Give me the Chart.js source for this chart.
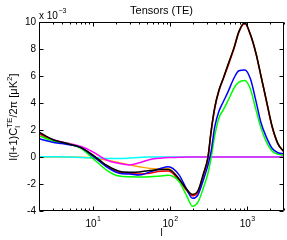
<!DOCTYPE html>
<html>
<head>
<meta charset="utf-8">
<script src="https://cdn.jsdelivr.net/npm/chart.js@4/dist/chart.umd.min.js"></script>
<style>
html,body{margin:0;padding:0;background:#fff;}
canvas{display:block;}
</style>
</head>
<body>
<canvas id="c" width="287" height="240"></canvas>
<script>
// multipole l
const ell = [2,3,4,5,7,10,15,22,30,40,55,75,95,130,165,195,230,270,310,340,380,430,490,560,680,780,930,1100,1300,1500,1750,2100,2500,3000];
// series (units of 1e-3 uK^2)
const blackVals   = [1.85,1.3,1.1,0.95,0.7,0.15,-0.6,-1.05,-1.12,-1.1,-1.0,-0.92,-0.92,-1.6,-2.4,-2.77,-2.5,-1.25,0.0,1.9,3.7,4.95,5.85,6.8,8.17,9.3,9.95,9.1,7.7,6.1,4.35,2.3,1.0,0.39];
const blueVals    = [1.35,1.1,1.0,0.92,0.7,0.07,-0.72,-1.2,-1.26,-1.33,-1.1,-0.85,-0.72,-1.3,-2.4,-3.06,-2.8,-1.7,-0.6,0.4,2.25,3.4,4.1,4.8,5.9,6.4,6.45,5.8,4.15,2.6,1.55,0.65,0.32,0.25];
const greenVals   = [1.58,1.2,1.05,0.95,0.65,-0.1,-0.96,-1.41,-1.46,-1.48,-1.46,-1.4,-1.35,-1.8,-2.9,-3.65,-3.35,-2.3,-1.2,-0.1,1.6,2.9,3.5,4.15,5.14,5.55,5.68,5.05,3.5,2.2,1.2,0.45,0.22,0.12];
const redVals     = [1.72,1.25,1.08,0.95,0.7,0.12,-0.67,-1.15,-1.2,-1.26,-1.2,-1.05,-1.04,-1.7,-2.5,-2.87,-2.6,-1.4,-0.1,1.8,3.6,4.9,5.8,6.7,8.1,9.25,9.9,9.05,7.65,6.05,4.3,2.25,0.98,0.38];
const orangeVals  = [0,0,0,0,-0.02,-0.08,-0.22,-0.42,-0.58,-0.72,-0.84,-0.86,-0.84,-1.6,-2.4,-2.77,-2.5,-1.25,0.0,1.9,3.7,4.95,5.85,6.8,8.17,9.3,9.95,9.1,7.7,6.1,4.35,2.3,1.0,0.39];
const magentaVals = [1.78,1.3,1.1,1.0,0.78,0.39,-0.22,-0.48,-0.58,-0.42,-0.18,-0.08,-0.04,-0.02,0,0,0,0,0,0,0,0,0,0,0,0,0,0,0,0,0,0,0,0];
const cyanVals    = [0.02,0.02,0.01,0,-0.03,-0.06,-0.1,-0.1,-0.07,-0.03,0,0,0,0,0,0,0,0,0,0,0,0,0,0,0,0,0,0,0,0,0,0,0,0];
// axes
const yTicks = [-4,-2,0,2,4,6,8,10];
const xMajor = [10,100,1000];
const xMinor = [2,3,4,5,6,7,8,9,20,30,40,50,60,70,80,90,200,300,400,500,600,700,800,900,2000,3000];
const xMajorExp = ['1','2','3'];

const FONT = '"Liberation Sans", Arial, Helvetica, sans-serif';

function ds(vals, color){
  return {data: ell.map((x,i)=>({x:x, y:vals[i]})), borderColor: color, borderWidth: 1.5,
          pointRadius: 0, fill: false, cubicInterpolationMode: 'monotone'};
}

const axesPlugin = {
  id: 'matlabAxes',
  afterDatasetsDraw(chart){
    const ctx = chart.ctx, a = chart.chartArea, xs = chart.scales.x, ys = chart.scales.y;
    ctx.save();
    ctx.strokeStyle = '#000';
    ctx.lineWidth = 1;
    const L = Math.round(a.left)+0.5, R = Math.round(a.right)-0.5, T = Math.round(a.top)+0.5, B = Math.round(a.bottom)-0.5;
    ctx.beginPath();
    ctx.rect(L, T, R-L, B-T);
    ctx.stroke();
    ctx.beginPath();
    yTicks.forEach(v=>{
      const p = Math.round(ys.getPixelForValue(v))+0.5;
      ctx.moveTo(L,p); ctx.lineTo(L+4,p);
      ctx.moveTo(R,p); ctx.lineTo(R-4,p);
    });
    xMajor.forEach(v=>{
      const p = Math.round(xs.getPixelForValue(v))+0.5;
      ctx.moveTo(p,B); ctx.lineTo(p,B-4);
      ctx.moveTo(p,T); ctx.lineTo(p,T+4);
    });
    xMinor.forEach(v=>{
      const p = Math.round(xs.getPixelForValue(v))+0.5;
      ctx.moveTo(p,B); ctx.lineTo(p,B-2);
      ctx.moveTo(p,T); ctx.lineTo(p,T+2);
    });
    ctx.stroke();
    ctx.fillStyle = '#000';
    // y labels
    ctx.font = '10px ' + FONT;
    ctx.textAlign = 'right';
    ctx.textBaseline = 'middle';
    yTicks.forEach(v=>{
      ctx.fillText(String(v), a.left-3, ys.getPixelForValue(v));
    });
    // x labels
    xMajor.forEach((v,i)=>{
      const p = xs.getPixelForValue(v);
      ctx.font = '10px ' + FONT;
      const w1 = ctx.measureText('10').width;
      ctx.font = '7px ' + FONT;
      const w2 = ctx.measureText(xMajorExp[i]).width;
      const x0 = p - (w1+w2)/2;
      ctx.textAlign = 'left';
      ctx.textBaseline = 'alphabetic';
      ctx.font = '10px ' + FONT;
      ctx.fillText('10', x0, 227);
      ctx.font = '7px ' + FONT;
      ctx.fillText(xMajorExp[i], x0+w1+0.5, 221);
    });
    // x axis label
    ctx.font = '10px ' + FONT;
    ctx.textAlign = 'center';
    ctx.fillText('l', (a.left+a.right)/2, 236);
    // exponent
    ctx.textAlign = 'left';
    ctx.font = '10px ' + FONT;
    ctx.fillText('x 10', a.left, 19);
    const wx = ctx.measureText('x 10').width;
    ctx.font = '7px ' + FONT;
    ctx.fillText('\u22123', a.left+wx+0.5, 12.5);
    // y axis label
    ctx.save();
    const cy = 117;
    ctx.translate(17, cy);
    ctx.rotate(-Math.PI/2);
    const big = '11px ' + FONT, small = '8px ' + FONT;
    const parts = [
      {t:'l(l+1)C', f:big, y:0},
      {stack:[{t:'TE', f:small, y:-5.5},{t:'l', f:small, y:3}]},
      {t:'/2\u03c0 [\u03bcK', f:big, y:0},
      {t:'2', f:small, y:-5},
      {t:']', f:big, y:0}
    ];
    let W = 0;
    parts.forEach(pt=>{
      if(pt.stack){
        let m=0; pt.stack.forEach(s=>{ctx.font=s.f; m=Math.max(m, ctx.measureText(s.t).width);});
        pt.w = m;
      } else { ctx.font = pt.f; pt.w = ctx.measureText(pt.t).width; }
      W += pt.w;
    });
    let x = -W/2;
    ctx.textAlign = 'left';
    ctx.textBaseline = 'alphabetic';
    parts.forEach(pt=>{
      if(pt.stack){
        pt.stack.forEach(s=>{ctx.font=s.f; ctx.fillText(s.t, x, s.y);});
      } else { ctx.font = pt.f; ctx.fillText(pt.t, x, pt.y); }
      x += pt.w;
    });
    ctx.restore();
    ctx.restore();
  }
};

new Chart(document.getElementById('c'), {
  type: 'line',
  data: {
    datasets: [
      ds(blackVals, '#000000'),
      ds(blueVals, '#0000ff'),
      ds(greenVals, '#00ff00'),
      ds(redVals, '#ff0000'),
      ds(magentaVals, '#ff00ff'),
      ds(cyanVals, '#00ffff'),
      ds(orangeVals, '#ffa500')
    ]
  },
  options: {
    responsive: false,
    animation: false,
    devicePixelRatio: 1,
    layout: {padding: {left: 39, right: 3, top: 0, bottom: 29}},
    plugins: {
      legend: {display: false},
      tooltip: {enabled: false},
      title: {display: true, text: 'Tensors (TE)', color: '#000', fullSize: false,
              font: {family: FONT, size: 11, weight: 'normal'}, padding: {top: 4, bottom: 5}}
    },
    scales: {
      x: {type: 'logarithmic', min: 2, max: 3000, display: false},
      y: {type: 'linear', min: -4, max: 10, display: false}
    }
  },
  plugins: [axesPlugin]
});
</script>
</body>
</html>
